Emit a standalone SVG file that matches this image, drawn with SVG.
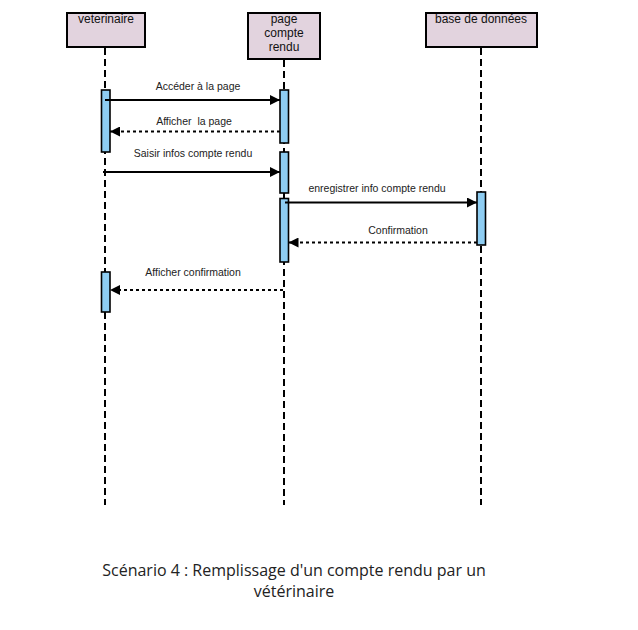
<svg xmlns="http://www.w3.org/2000/svg" width="638" height="630" viewBox="0 0 638 630">
<style>
.box{fill:#e2d3de;stroke:#000;stroke-width:2}
.bt{font-family:"Liberation Sans",Arial,sans-serif;font-size:12px;fill:#111;text-anchor:middle}
.life{stroke:#000;stroke-width:2;stroke-dasharray:7 4;fill:none}
.act{fill:#8ecdf2;stroke:#000;stroke-width:1.6}
.msg{stroke:#000;stroke-width:2;fill:none}
.ret{stroke:#000;stroke-width:2;stroke-dasharray:3 3;fill:none}
.ml{font-family:"Liberation Sans",Arial,sans-serif;font-size:10.5px;fill:#222;text-anchor:middle}
.cap{font-family:"Open Sans","Noto Sans",sans-serif;font-size:16px;fill:#222;text-anchor:middle}
</style>
<defs>
<marker id="ah" viewBox="0 0 10 10" refX="10" refY="5" markerWidth="5.5" markerHeight="5" markerUnits="strokeWidth" orient="auto">
<path d="M0,0 L10,5 L0,10 z" fill="#000"/>
</marker>
</defs>
<g id="veterinaire">
<line class="life" x1="105" y1="48" x2="105" y2="505"/>
<rect class="box" x="67" y="13" width="78" height="34"/>
<text class="bt" x="106" y="23">veterinaire</text>
<rect class="act" x="101.5" y="90" width="8.5" height="62"/>
<rect class="act" x="101.5" y="272" width="8.5" height="40"/>
</g>
<g id="page">
<line class="life" x1="284" y1="60" x2="284" y2="505"/>
<rect class="box" x="248" y="13" width="72" height="46"/>
<text class="bt" x="284" y="23">page</text>
<text class="bt" x="284" y="37">compte</text>
<text class="bt" x="284" y="51">rendu</text>
<rect class="act" x="280" y="90" width="8.5" height="53"/>
<rect class="act" x="280" y="152" width="8.5" height="41"/>
<rect class="act" x="280" y="198.5" width="8.5" height="63.5"/>
</g>
<g id="bdd">
<line class="life" x1="481" y1="48" x2="481" y2="505"/>
<rect class="box" x="426" y="13" width="111" height="34"/>
<text class="bt" x="481" y="23">base de données</text>
<rect class="act" x="477" y="192" width="8.5" height="53"/>
</g>
<g id="connectors">
<line class="msg" x1="105" y1="100" x2="280" y2="100" marker-end="url(#ah)"/>
<text class="ml" x="198" y="90">Accéder à la page</text>
<line class="ret" x1="280" y1="131.5" x2="110" y2="131.5" marker-end="url(#ah)"/>
<text class="ml" x="194" y="125" xml:space="preserve">Afficher  la page</text>
<line class="msg" x1="103" y1="172" x2="280" y2="172" marker-end="url(#ah)"/>
<text class="ml" x="193" y="157">Saisir infos compte rendu</text>
<line class="msg" x1="285" y1="202.5" x2="477" y2="202.5" marker-end="url(#ah)"/>
<text class="ml" x="377" y="192">enregistrer info compte rendu</text>
<line class="ret" x1="477" y1="242.5" x2="288.5" y2="242.5" marker-end="url(#ah)"/>
<text class="ml" x="398" y="234">Confirmation</text>
<line class="ret" x1="283" y1="290" x2="110" y2="290" marker-end="url(#ah)"/>
<text class="ml" x="193" y="276">Afficher confirmation</text>
</g>
<text class="cap" x="294" y="576">Scénario 4 : Remplissage d'un compte rendu par un</text>
<text class="cap" x="294" y="597">vétérinaire</text>
</svg>
